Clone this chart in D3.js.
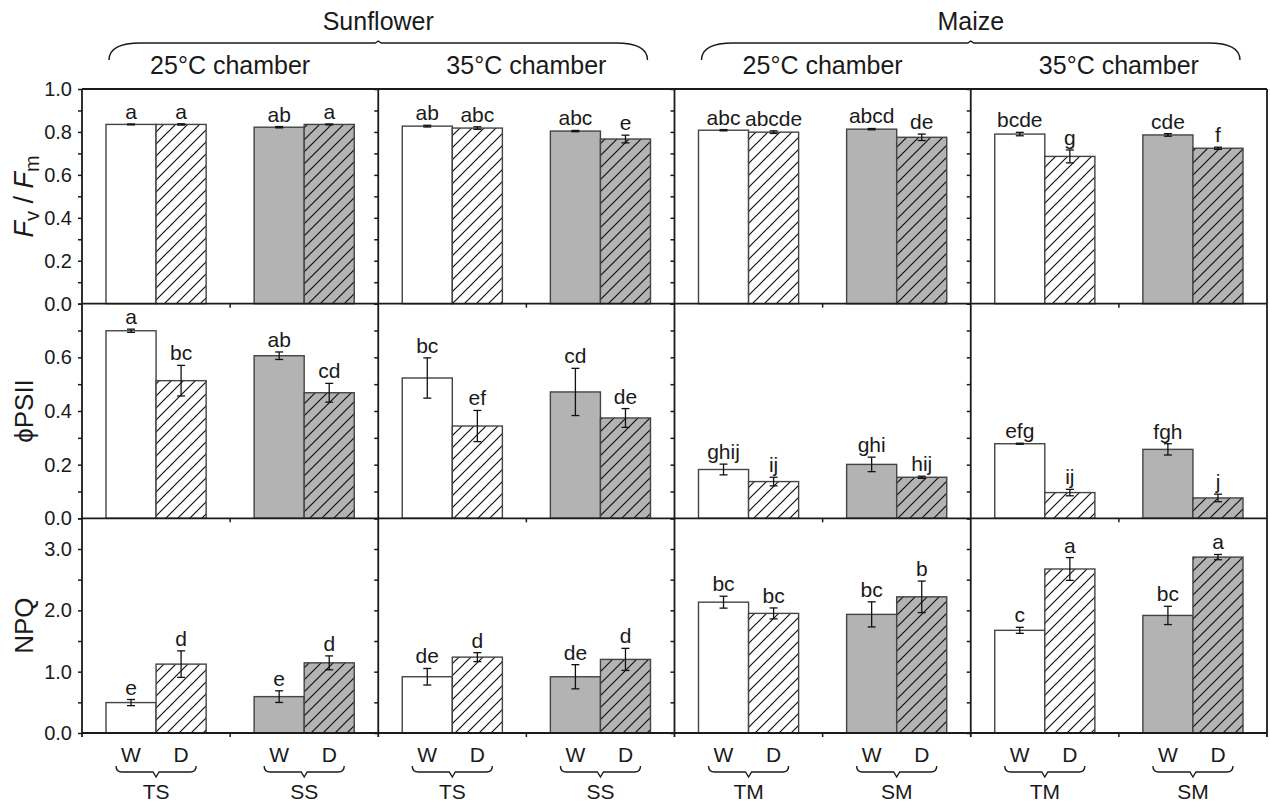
<!DOCTYPE html>
<html>
<head>
<meta charset="utf-8">
<script src="https://cdn.jsdelivr.net/npm/d3@7"></script>
<style>
  body { margin: 0; background: #fff; }
  svg { display: block; }
  text { font-family: "Liberation Sans", Arial, Helvetica, sans-serif; fill: #1a1a1a; }
</style>
</head>
<body>
<svg id="chart" width="1270" height="803"></svg>
<script>
// ---- categories ----
const species = ["Sunflower", "Maize"];
const chambers = ["25°C chamber", "35°C chamber", "25°C chamber", "35°C chamber"];
const panelSpecies = [0, 0, 1, 1];
const genotypes = [["TS", "SS"], ["TS", "SS"], ["TM", "SM"], ["TM", "SM"]];
const watering = ["W", "D"];

// ---- values, ordered panel -> genotype -> watering ----
const fvfm = [0.835, 0.835, 0.822, 0.835, 0.827, 0.818, 0.804, 0.767,
              0.808, 0.799, 0.813, 0.775, 0.790, 0.686, 0.786, 0.724];
const fvfmErr = [0.002, 0.003, 0.003, 0.002, 0.004, 0.006, 0.003, 0.018,
                 0.003, 0.006, 0.003, 0.015, 0.008, 0.030, 0.006, 0.005];
const fvfmLetters = ["a", "a", "ab", "a", "ab", "abc", "abc", "e",
                     "abc", "abcde", "abcd", "de", "bcde", "g", "cde", "f"];

const phi = [0.699, 0.513, 0.606, 0.468, 0.523, 0.344, 0.471, 0.374,
             0.182, 0.137, 0.201, 0.153, 0.278, 0.096, 0.257, 0.076];
const phiErr = [0.006, 0.057, 0.014, 0.035, 0.075, 0.058, 0.088, 0.035,
                0.020, 0.016, 0.027, 0.004, 0.002, 0.012, 0.021, 0.014];
const phiLetters = ["a", "bc", "ab", "cd", "bc", "ef", "cd", "de",
                    "ghij", "ij", "ghi", "hij", "efg", "ij", "fgh", "j"];

const npq = [0.496, 1.123, 0.593, 1.144, 0.917, 1.237, 0.917, 1.200,
             2.133, 1.950, 1.934, 2.220, 1.674, 2.674, 1.917, 2.868];
const npqErr = [0.050, 0.216, 0.095, 0.113, 0.135, 0.073, 0.197, 0.180,
                0.097, 0.089, 0.205, 0.257, 0.049, 0.186, 0.149, 0.043];
const npqLetters = ["e", "d", "e", "d", "de", "d", "de", "d",
                    "bc", "bc", "bc", "b", "c", "a", "bc", "a"];

// ---- axis ticks ----
const fvfmTicks = [0, 0.1, 0.2, 0.3, 0.4, 0.5, 0.6, 0.7, 0.8, 0.9, 1.0];
const fvfmTickLabels = [0, 0.2, 0.4, 0.6, 0.8, 1.0];
const phiTicks = [0, 0.1, 0.2, 0.3, 0.4, 0.5, 0.6, 0.7, 0.8];
const phiTickLabels = [0, 0.2, 0.4, 0.6];
const npqTicks = [0, 0.5, 1.0, 1.5, 2.0, 2.5, 3.0, 3.5];
const npqTickLabels = [0, 1, 2, 3];

const rows = [
  { values: fvfm, errors: fvfmErr, letters: fvfmLetters, max: 1.0, ticks: fvfmTicks, labels: fvfmTickLabels, title: "fvfm" },
  { values: phi, errors: phiErr, letters: phiLetters, max: 0.8, ticks: phiTicks, labels: phiTickLabels, title: "ϕPSII" },
  { values: npq, errors: npqErr, letters: npqLetters, max: 3.5, ticks: npqTicks, labels: npqTickLabels, title: "NPQ" }
];

(function draw() {
  const plotLeft = 82, plotRight = 1267, plotTop = 89, plotBottom = 733;
  const rowH = (plotBottom - plotTop) / 3;
  const ink = "#1a1a1a";
  const grey = "#b3b3b3";

  const svg = d3.select("#chart");
  const defs = svg.append("defs");

  function hatch(id, bg) {
    const p = defs.append("pattern")
      .attr("id", id).attr("patternUnits", "userSpaceOnUse")
      .attr("width", 12).attr("height", 12);
    p.append("rect").attr("width", 12).attr("height", 12).attr("fill", bg);
    p.append("path")
      .attr("d", "M-3,3 L3,-3 M0,12 L12,0 M9,15 L15,9")
      .attr("stroke", "#111").attr("stroke-width", 1.2);
  }
  hatch("hatchWhite", "#ffffff");
  hatch("hatchGrey", grey);

  const xPanel = d3.scaleBand().domain(d3.range(4)).range([plotLeft, plotRight]);
  const panelW = xPanel.bandwidth();
  const xGroup = d3.scaleBand().domain([0, 1]).range([0, panelW])
    .paddingInner(0.324).paddingOuter(0.162);
  const xBar = d3.scaleBand().domain(watering).range([0, xGroup.bandwidth()]);

  const barX = (p, g, w) => xPanel(p) + xGroup(g) + xBar(w);
  const fmt = d3.format(".1f");

  // ---- rows of panels ----
  rows.forEach((row, r) => {
    const y = d3.scaleLinear().domain([0, row.max])
      .range([plotTop + (r + 1) * rowH, plotTop + r * rowH]);
    const gRow = svg.append("g");

    // y axes on the left edge of every panel
    for (let p = 0; p < 4; p++) {
      const ax = gRow.append("g")
        .attr("transform", `translate(${xPanel(p)},0)`)
        .call(d3.axisLeft(y).tickValues(row.ticks).tickSize(4).tickSizeOuter(0).tickPadding(6)
          .tickFormat(d => (p === 0 && row.labels.some(l => Math.abs(l - d) < 1e-9)) ? fmt(d) : ""));
      ax.select(".domain").remove();
      ax.selectAll(".tick line").attr("stroke", ink).attr("stroke-width", 1.5);
      ax.selectAll(".tick text").attr("font-size", 20).attr("fill", ink)
        .style("font-family", '"Liberation Sans", Arial, sans-serif');

      // centre tick on the baseline
      gRow.append("line")
        .attr("x1", xPanel(p) + panelW / 2).attr("x2", xPanel(p) + panelW / 2)
        .attr("y1", y(0)).attr("y2", y(0) + 4)
        .attr("stroke", ink).attr("stroke-width", 1.5);
    }

    // bars
    const bars = [];
    for (let p = 0; p < 4; p++)
      for (let g = 0; g < 2; g++)
        for (let w = 0; w < 2; w++) {
          const i = p * 4 + g * 2 + w;
          bars.push({ p, g, w: watering[w], v: row.values[i], e: row.errors[i], t: row.letters[i] });
        }

    gRow.selectAll("rect.bar").data(bars).join("rect")
      .attr("class", "bar")
      .attr("x", d => barX(d.p, d.g, d.w))
      .attr("width", xBar.bandwidth())
      .attr("y", d => y(d.v))
      .attr("height", d => y(0) - y(d.v))
      .attr("fill", d => d.w === "D" ? (d.g === 0 ? "url(#hatchWhite)" : "url(#hatchGrey)") : (d.g === 0 ? "#ffffff" : grey))
      .attr("stroke", "#444").attr("stroke-width", 1.4);

    // error bars
    const eb = gRow.selectAll("g.err").data(bars).join("g").attr("class", "err")
      .attr("transform", d => `translate(${barX(d.p, d.g, d.w) + xBar.bandwidth() / 2},0)`);
    eb.append("line").attr("y1", d => y(d.v - d.e)).attr("y2", d => y(d.v + d.e))
      .attr("stroke", "#111").attr("stroke-width", 1.3);
    eb.append("line").attr("x1", -4).attr("x2", 4)
      .attr("y1", d => y(d.v + d.e)).attr("y2", d => y(d.v + d.e))
      .attr("stroke", "#111").attr("stroke-width", 1.3);
    eb.append("line").attr("x1", -4).attr("x2", 4)
      .attr("y1", d => y(d.v - d.e)).attr("y2", d => y(d.v - d.e))
      .attr("stroke", "#111").attr("stroke-width", 1.3);

    // significance letters
    gRow.selectAll("text.sig").data(bars).join("text")
      .attr("class", "sig")
      .attr("x", d => barX(d.p, d.g, d.w) + xBar.bandwidth() / 2)
      .attr("y", d => y(d.v + d.e) - 5)
      .attr("text-anchor", "middle").attr("font-size", 21)
      .text(d => d.t);

    // baseline across the row
    gRow.append("line")
      .attr("x1", plotLeft).attr("x2", plotRight).attr("y1", y(0)).attr("y2", y(0))
      .attr("stroke", ink).attr("stroke-width", 1.8);

    // row title
    const cy = plotTop + r * rowH + rowH / 2;
    const tt = svg.append("text")
      .attr("transform", `translate(33,${cy}) rotate(-90)`)
      .attr("text-anchor", "middle").attr("font-size", 26);
    if (row.title === "fvfm") {
      tt.attr("font-size", 27);
      tt.append("tspan").attr("font-style", "italic").text("F");
      tt.append("tspan").attr("font-size", 20).attr("dy", 6).text("v");
      tt.append("tspan").attr("dy", -6).text(" / ");
      tt.append("tspan").attr("font-style", "italic").text("F");
      tt.append("tspan").attr("font-size", 20).attr("dy", 6).text("m");
    } else {
      tt.text(row.title);
    }
  });

  // ---- frame ----
  svg.append("line").attr("x1", plotLeft).attr("x2", plotRight).attr("y1", plotTop).attr("y2", plotTop)
    .attr("stroke", ink).attr("stroke-width", 1.8);
  for (let p = 0; p <= 4; p++) {
    const x = p < 4 ? xPanel(p) : plotRight;
    svg.append("line").attr("x1", x).attr("x2", x).attr("y1", plotTop).attr("y2", plotBottom + 4)
      .attr("stroke", ink).attr("stroke-width", 1.8);
  }

  // ---- category labels below ----
  const under = svg.append("g");
  for (let p = 0; p < 4; p++) {
    for (let g = 0; g < 2; g++) {
      watering.forEach(w => {
        under.append("text")
          .attr("x", barX(p, g, w) + xBar.bandwidth() / 2).attr("y", 762)
          .attr("text-anchor", "middle").attr("font-size", 21).text(w);
      });
      const x0 = barX(p, g, "W") + xBar.bandwidth() / 2 - 15;
      const x1 = barX(p, g, "D") + xBar.bandwidth() / 2 + 15;
      const cx = (x0 + x1) / 2;
      under.append("path")
        .attr("d", `M${x0},766 Q${x0},772 ${x0 + 6},772 L${cx - 3},772 L${cx},777 L${cx + 3},772 L${x1 - 6},772 Q${x1},772 ${x1},766`)
        .attr("fill", "none").attr("stroke", ink).attr("stroke-width", 1.4);
      under.append("text")
        .attr("x", cx).attr("y", 799)
        .attr("text-anchor", "middle").attr("font-size", 21).text(genotypes[p][g]);
    }
  }

  // ---- headers ----
  const head = svg.append("g");
  chambers.forEach((c, p) => {
    head.append("text").attr("x", xPanel(p) + panelW / 2).attr("y", 74)
      .attr("text-anchor", "middle").attr("font-size", 25).text(c);
  });
  species.forEach((s, k) => {
    const pIdx = panelSpecies.map((v, i) => v === k ? i : -1).filter(i => i >= 0);
    const xa = xPanel(pIdx[0]), xb = xPanel(pIdx[pIdx.length - 1]) + panelW;
    const cx = (xa + xb) / 2;
    head.append("text").attr("x", cx).attr("y", 30)
      .attr("text-anchor", "middle").attr("font-size", 25).text(s);
    const x0 = xa + 27, x1 = xb - 27;
    head.append("path")
      .attr("d", `M${x0},60 C${x0},49 ${x0 + 10},43 ${x0 + 32},43 L${cx - 3},43 L${cx},41 L${cx + 3},43 L${x1 - 32},43 C${x1 - 10},43 ${x1},49 ${x1},60`)
      .attr("fill", "none").attr("stroke", ink).attr("stroke-width", 1.4);
  });
})();
</script>
</body>
</html>
